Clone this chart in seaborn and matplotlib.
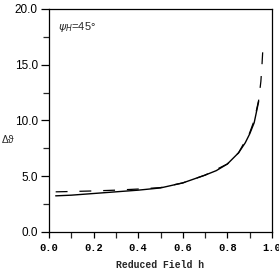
import numpy as np
import pandas as pd
import seaborn as sns
import matplotlib.pyplot as plt
from matplotlib.ticker import MultipleLocator, FormatStrFormatter

# valori (Delta theta vs reduced field h)
h_solid = [0.03, 0.10, 0.20, 0.30, 0.40, 0.50, 0.60, 0.70, 0.75, 0.80, 0.85, 0.88, 0.90, 0.92, 0.94]
d_solid = [3.24, 3.30, 3.45, 3.60, 3.75, 3.95, 4.40, 5.10, 5.50, 6.10, 7.10, 8.00, 8.80, 9.80, 11.70]

h_dash = [0.03, 0.10, 0.20, 0.30, 0.40, 0.50, 0.60, 0.70, 0.80, 0.85, 0.90, 0.92, 0.94, 0.95, 0.955, 0.96]
d_dash = [3.60, 3.63, 3.68, 3.75, 3.85, 3.98, 4.40, 5.10, 6.10, 7.10, 8.90, 10.0, 11.8, 13.5, 15.0, 16.8]

psi_label = "$\\psi_H$=45°"

sns.set_theme(style="ticks")
plt.rcParams["font.family"] = ["Liberation Sans", "DejaVu Sans"]

solid = pd.DataFrame({"h": h_solid, "dtheta": d_solid})
dash = pd.DataFrame({"h": h_dash, "dtheta": d_dash})

fig = plt.figure(figsize=(2.79, 2.71), dpi=100)
ax = fig.add_axes([0.1756, 0.144, 0.7994, 0.823])

sns.lineplot(data=solid, x="h", y="dtheta", color="black", lw=1.0, ax=ax)
sns.lineplot(data=dash, x="h", y="dtheta", color="black", lw=0.9,
             dashes=False, ax=ax).lines[-1].set_dashes((9.5, 9.5))

ax.set_xlim(0, 1.0)
ax.set_ylim(0, 20)
ax.xaxis.set_major_locator(MultipleLocator(0.2))
ax.xaxis.set_minor_locator(MultipleLocator(0.1))
ax.yaxis.set_major_locator(MultipleLocator(5))
ax.yaxis.set_minor_locator(MultipleLocator(2.5))
ax.xaxis.set_major_formatter(FormatStrFormatter("%.1f"))
ax.yaxis.set_major_formatter(FormatStrFormatter("%.1f"))

for side in ["top", "right", "left", "bottom"]:
    ax.spines[side].set_visible(True)
    ax.spines[side].set_linewidth(0.9)
    ax.spines[side].set_color("black")

ax.tick_params(axis="y", which="major", direction="out", length=6, width=0.9,
               labelsize=8.5, colors="black", pad=2)
ax.tick_params(axis="y", which="minor", direction="out", length=4.5, width=0.9)
ax.tick_params(axis="x", which="major", direction="out", length=4, width=0.9,
               labelsize=7.5, colors="black", pad=4)
ax.tick_params(axis="x", which="minor", direction="out", length=4, width=0.9)
for lab in ax.get_xticklabels():
    lab.set_family("Liberation Mono")
    lab.set_fontweight("bold")

ax.set_xlabel("Reduced Field h", family="Liberation Mono", fontweight="bold",
              fontsize=7, labelpad=5)
ax.set_ylabel("Δϑ", rotation=0, fontsize=7.5)
ax.yaxis.set_label_coords(-0.185, 0.39)

ax.text(0.04, 18.35, psi_label, fontsize=8, va="center", ha="left")

fig.savefig("out.png", dpi=100)
